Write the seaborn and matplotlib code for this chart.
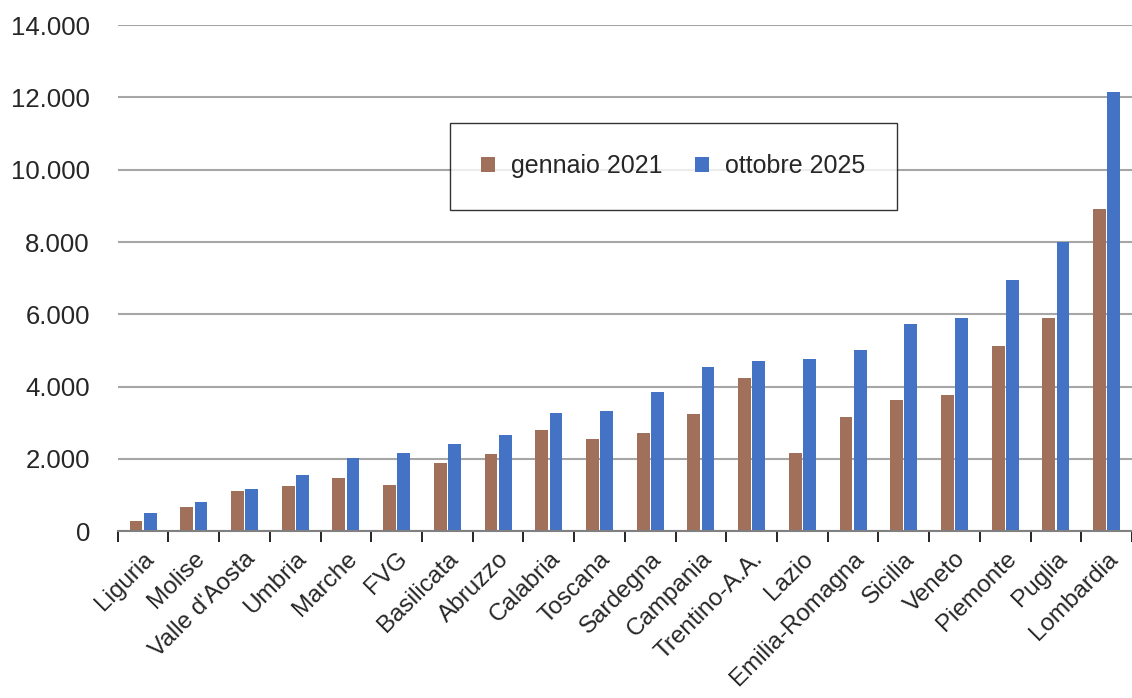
import numpy as np
import pandas as pd
import seaborn as sns
import matplotlib.pyplot as plt
from matplotlib.ticker import FuncFormatter, MultipleLocator

regioni = ["Liguria", "Molise", "Valle d'Aosta", "Umbria", "Marche", "FVG",
           "Basilicata", "Abruzzo", "Calabria", "Toscana", "Sardegna",
           "Campania", "Trentino-A.A.", "Lazio", "Emilia-Romagna", "Sicilia",
           "Veneto", "Piemonte", "Puglia", "Lombardia"]
gen_2021 = [290, 680, 1120, 1240, 1460, 1285, 1890, 2140, 2800, 2540, 2715,
            3240, 4240, 2150, 3160, 3640, 3770, 5115, 5900, 8900]
ott_2025 = [510, 805, 1155, 1545, 2035, 2150, 2410, 2670, 3280, 3325, 3840,
            4545, 4720, 4765, 5025, 5725, 5900, 6945, 7990, 12160]
serie = ["gennaio 2021", "ottobre 2025"]
colori = ["#A0705A", "#4472C4"]

df = pd.DataFrame({
    "regione": regioni * 2,
    "valore": gen_2021 + ott_2025,
    "serie": [serie[0]] * len(regioni) + [serie[1]] * len(regioni),
})

sns.set_style("white")
plt.rcParams["font.family"] = ["Liberation Sans", "DejaVu Sans"]

fig = plt.figure(figsize=(11.32, 6.98), dpi=100)
ax = fig.add_axes([0.104, 0.239, 0.896, 0.725])

sns.barplot(data=df, x="regione", y="valore", hue="serie", palette=colori,
            width=0.56, gap=0.1, ax=ax, saturation=1, edgecolor="none")

ax.set_xlim(-0.5, len(regioni) - 0.5)
ax.set_ylim(0, 14000)
ax.yaxis.set_major_locator(MultipleLocator(2000))
ax.yaxis.set_major_formatter(FuncFormatter(lambda v, p: f"{int(v):,}".replace(",", ".")))
ax.grid(axis="y", color="#a6a6a6", linewidth=1.5)
ax.set_axisbelow(True)
ax.set_xlabel("")
ax.set_ylabel("")

for s in ["top", "right", "left"]:
    ax.spines[s].set_visible(False)
ax.spines["bottom"].set_color("#808080")
ax.spines["bottom"].set_linewidth(1.5)

ax.tick_params(axis="y", length=0, labelsize=18.5, pad=20)
ax.set_xticks(np.arange(len(regioni)))
ax.set_xticklabels(regioni, rotation=45, ha="right", rotation_mode="anchor", fontsize=17.5)
ax.tick_params(axis="x", which="major", bottom=True, length=0, pad=12)
ax.set_xticks(np.arange(len(regioni) + 1) - 0.5, minor=True)
ax.tick_params(axis="x", which="minor", bottom=True, length=8, width=1.2, color="black")

leg = ax.legend(loc="center", bbox_to_anchor=(0.548, 0.721), ncol=2, fontsize=18,
                frameon=True, fancybox=False, edgecolor="black", borderpad=1.25,
                handlelength=0.55, handleheight=0.55, handletextpad=0.65,
                columnspacing=1.3, title=None)
leg.get_frame().set_linewidth(1.0)

fig.savefig("out.png", dpi=100)
